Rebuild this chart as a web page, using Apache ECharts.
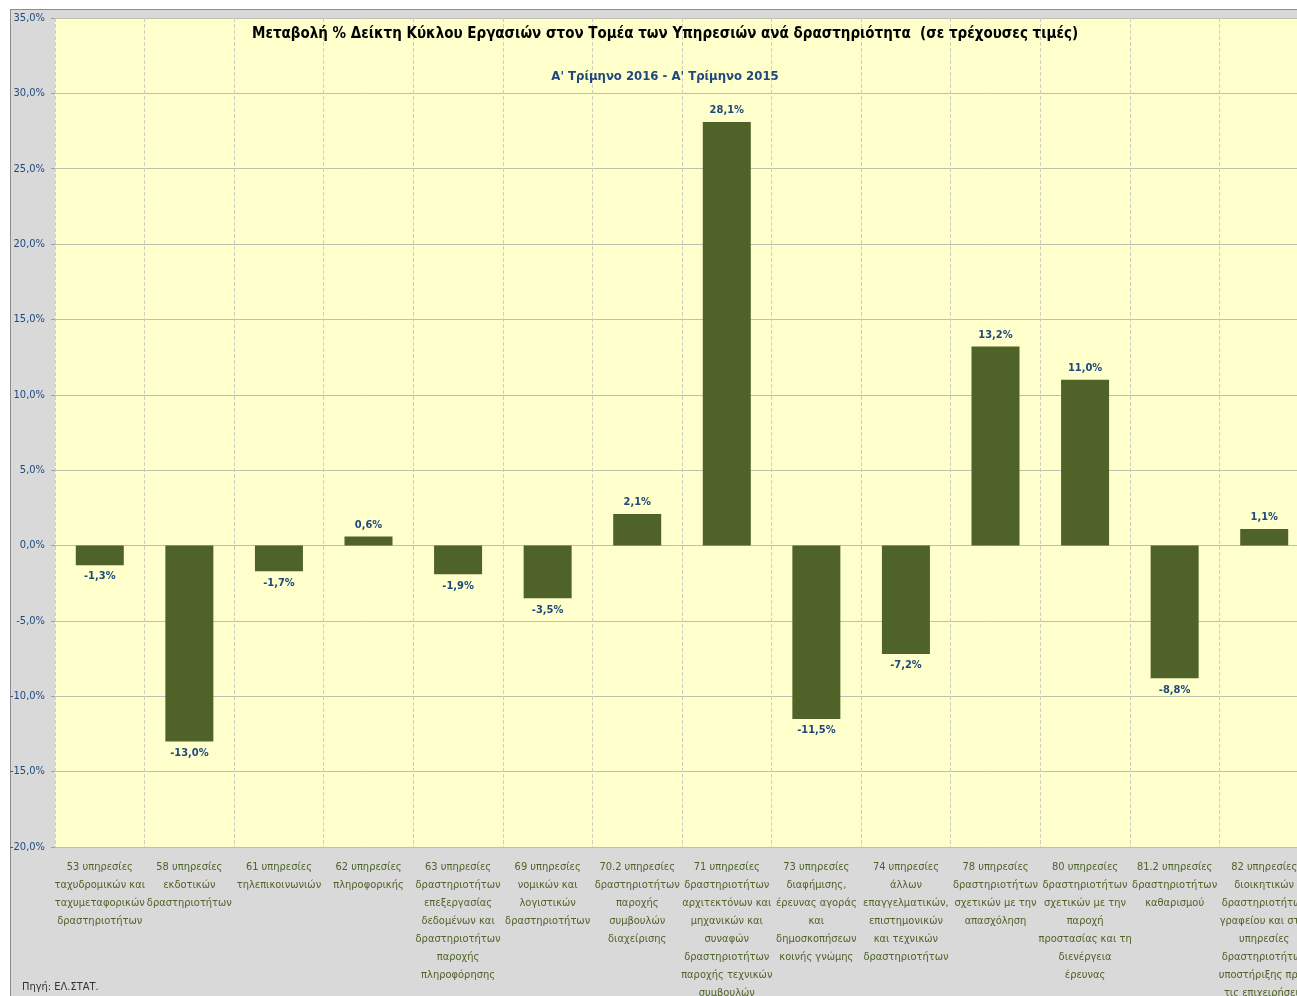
<!DOCTYPE html>
<html>
<head>
<meta charset="utf-8">
<script src="https://cdn.jsdelivr.net/npm/echarts@6/dist/echarts.min.js"></script>
<style>
  html, body { margin: 0; padding: 0; background: #fff; overflow: hidden; }
  #frame { position: absolute; left: 10px; top: 9px; width: 1287px; height: 987px;
           box-sizing: border-box; background: #d9d9d9;
           border-left: 1px solid #8c8c8c; border-top: 1px solid #8c8c8c; }
  #chart { position: absolute; left: 0; top: 0; width: 1297px; height: 996px; }
</style>
</head>
<body>
<div id="frame"></div>
<div id="chart"></div>
<script>
// ========== Δεδομένα ==========
const categories = [
  "53 υπηρεσίες\nταχυδρομικών και\nταχυμεταφορικών\nδραστηριοτήτων",
  "58 υπηρεσίες\nεκδοτικών\nδραστηριοτήτων",
  "61 υπηρεσίες\nτηλεπικοινωνιών",
  "62 υπηρεσίες\nπληροφορικής",
  "63 υπηρεσίες\nδραστηριοτήτων\nεπεξεργασίας\nδεδομένων και\nδραστηριοτήτων\nπαροχής\nπληροφόρησης",
  "69 υπηρεσίες\nνομικών και\nλογιστικών\nδραστηριοτήτων",
  "70.2 υπηρεσίες\nδραστηριοτήτων\nπαροχής\nσυμβουλών\nδιαχείρισης",
  "71 υπηρεσίες\nδραστηριοτήτων\nαρχιτεκτόνων και\nμηχανικών και\nσυναφών\nδραστηριοτήτων\nπαροχής τεχνικών\nσυμβουλών",
  "73 υπηρεσίες\nδιαφήμισης,\nέρευνας αγοράς\nκαι\nδημοσκοπήσεων\nκοινής γνώμης",
  "74 υπηρεσίες\nάλλων\nεπαγγελματικών,\nεπιστημονικών\nκαι τεχνικών\nδραστηριοτήτων",
  "78 υπηρεσίες\nδραστηριοτήτων\nσχετικών με την\nαπασχόληση",
  "80 υπηρεσίες\nδραστηριοτήτων\nσχετικών με την\nπαροχή\nπροστασίας και τη\nδιενέργεια\nέρευνας",
  "81.2 υπηρεσίες\nδραστηριοτήτων\nκαθαρισμού",
  "82 υπηρεσίες\nδιοικητικών\nδραστηριοτήτων\nγραφείου και στις\nυπηρεσίες\nδραστηριοτήτων\nυποστήριξης προς\nτις επιχειρήσεις"
];
const changes = [-1.3, -13.0, -1.7, 0.6, -1.9, -3.5, 2.1, 28.1, -11.5, -7.2, 13.2, 11.0, -8.8, 1.1];

const titleText = "Μεταβολή % Δείκτη Κύκλου Εργασιών στον Τομέα των Υπηρεσιών ανά δραστηριότητα  (σε τρέχουσες τιμές)";
const subtitleText = "Α' Τρίμηνο 2016 - Α' Τρίμηνο 2015";
const sourceText = "Πηγή: ΕΛ.ΣΤΑΤ.";

const FONT = "'DejaVu Sans Condensed', 'Liberation Sans Narrow', sans-serif";
const pct = (v) => v.toFixed(1).replace(".", ",") + "%";

// ========== Γράφημα ==========
const chart = echarts.init(document.getElementById("chart"));

chart.setOption({
  backgroundColor: "transparent",
  textStyle: { fontFamily: FONT },
  title: [
    {
      text: titleText,
      left: 660, top: 22, textAlign: "center",
      textStyle: { fontSize: 15, fontWeight: "bold", color: "#000", fontFamily: FONT }
    },
    {
      text: subtitleText,
      left: 660, top: 65, textAlign: "center",
      textStyle: { fontSize: 13, fontWeight: "bold", color: "#1f497d", fontFamily: FONT }
    }
  ],
  grid: {
    left: 55, width: 1254, top: 18, bottom: 149,
    outerBoundsMode: "none", containLabel: false,
    show: true, backgroundColor: "#ffffcc", borderWidth: 0
  },
  xAxis: {
    type: "category",
    data: categories,
    axisLine: { show: false },
    axisTick: { show: false },
    splitLine: { show: true, lineStyle: { color: "#cfcfc0", type: "dashed", width: 1 } },
    axisLabel: {
      interval: 0, margin: 11,
      fontSize: 11, lineHeight: 18, color: "#4f6228", fontFamily: FONT
    }
  },
  yAxis: {
    type: "value",
    min: -20, max: 35, interval: 5,
    axisLine: { show: false },
    axisTick: { show: true, length: 4, lineStyle: { color: "#a0a0a0" } },
    splitLine: { lineStyle: { color: "#c0c0b0", width: 1 } },
    axisLabel: {
      margin: 10, fontSize: 11, color: "#1f497d", fontFamily: FONT,
      formatter: (v) => pct(v)
    }
  },
  series: [
    {
      type: "bar",
      barWidth: 48,
      itemStyle: { color: "#4f6228" },
      data: changes.map((v) => ({
        value: v,
        label: { position: v < 0 ? "bottom" : "top" }
      })),
      label: {
        show: true, distance: 6,
        fontSize: 11, fontWeight: "bold", color: "#1f497d", fontFamily: FONT,
        formatter: (p) => pct(p.value)
      }
    }
  ],
  graphic: [
    {
      type: "text", left: 22, top: 982,
      style: { text: sourceText, fontSize: 11, fill: "#333", fontFamily: FONT }
    }
  ]
});

window.addEventListener("resize", () => chart.resize());
</script>
</body>
</html>
